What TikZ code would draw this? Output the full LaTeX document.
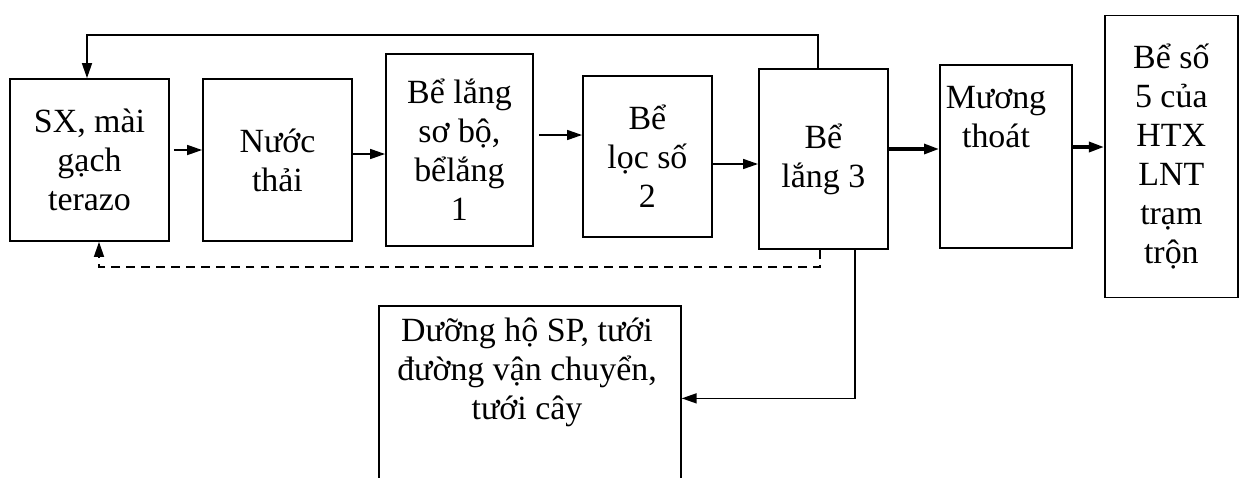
\documentclass[tikz,border=0pt]{standalone}
\usepackage{fontspec}
\setmainfont{Liberation Serif}
\usetikzlibrary{arrows.meta,positioning}
\tikzset{
    > = {Triangle[length=0.3cm,width=0.2cm]},
    box/.style = {
        draw = black,
        rectangle,
        line width = 1pt,
        align = center,
        font = \fontsize{19.3}{22.2}\selectfont
    },
    txt/.style = {
        align = center,
        font = \fontsize{19.3}{22.2}\selectfont
    },
    flow/.style = {
        ->,
        line width = 0.9pt
    },
    bigflow/.style = {
        ->,
        line width = 1.8pt
    }
}
\begin{document}
\begin{tikzpicture}[x=0.02cm, y=-0.02cm]
\useasboundingbox (0,0) rectangle (1244,477);
        \node (sx) [box, minimum width=3.18cm, minimum height=3.24cm] at (89.5,160) {SX, mài\\gạch\\terazo};
        \node (nuoc) [box, right = 0.645cm of sx, minimum width=2.98cm, minimum height=3.24cm] {Nước\\thải};
        \node (lang1) [box, right = 0.645cm of nuoc, yshift=0.2cm, minimum width=2.94cm, minimum height=3.84cm] {Bể lắng\\sơ bộ,\\bểlắng\\1};
        \node (loc2) [box, right = 0.965cm of lang1, yshift=-0.13cm, minimum width=2.58cm, minimum height=3.22cm] {Bể\\lọc số\\2};
        \node (lang3) [box, right = 0.905cm of loc2, yshift=-0.05cm, minimum width=2.58cm, minimum height=3.6cm] {Bể\\lắng 3};
        \node (muong) [box, right = 1.005cm of lang3, yshift=0.05cm, minimum width=2.64cm, minimum height=3.66cm] {};
        \node (muongtxt) [txt] at (996,117) {Mương\\thoát};
        \node (be5) [box, right = 0.625cm of muong, minimum width=2.66cm, minimum height=5.64cm] {Bể số\\5 của\\HTX\\LNT\\trạm\\trộn};
%reuse
        \node (duong) [box, anchor=north west, minimum width=6.04cm, minimum height=3.7cm] at (378,305) {};
        \node (duongtxt) [txt] at (527,372) {Dưỡng hộ SP, tưới\\đường vận chuyển,\\tưới cây};

%main line
        \draw[flow] ([xshift=0.08cm, yshift=0.2cm]sx.east) -- ([yshift=0.2cm]sx.east -| nuoc.west);
        \draw[flow] ([yshift=0.12cm]nuoc.east) -- ([yshift=0.12cm]nuoc.east -| lang1.west);
        \draw[flow] ([xshift=0.1cm, yshift=0.3cm]lang1.east) -- ([yshift=0.3cm]lang1.east -| loc2.west);
        \draw[flow] ([yshift=-0.15cm]loc2.east) -- ([yshift=-0.15cm]loc2.east -| lang3.west);
        \draw[bigflow] ([yshift=0.2cm]lang3.east) -- ([yshift=0.2cm]lang3.east -| muong.west);
        \draw[bigflow] ([yshift=0.19cm]muong.east) -- ([yshift=0.19cm]muong.east -| be5.west);

%return water
        \draw[flow] ([xshift=-0.11cm]lang3.north) -- ++(0,-33) -| ([xshift=-0.05cm]sx.north);
        \draw[flow, dash pattern=on 5pt off 3.5pt] ([xshift=-0.07cm]lang3.south) -- ++(0,17) -| ([xshift=0.19cm]sx.south);
        \draw[flow] ([xshift=0.63cm]lang3.south) |- (duong.east);
\end{tikzpicture}
\end{document}
